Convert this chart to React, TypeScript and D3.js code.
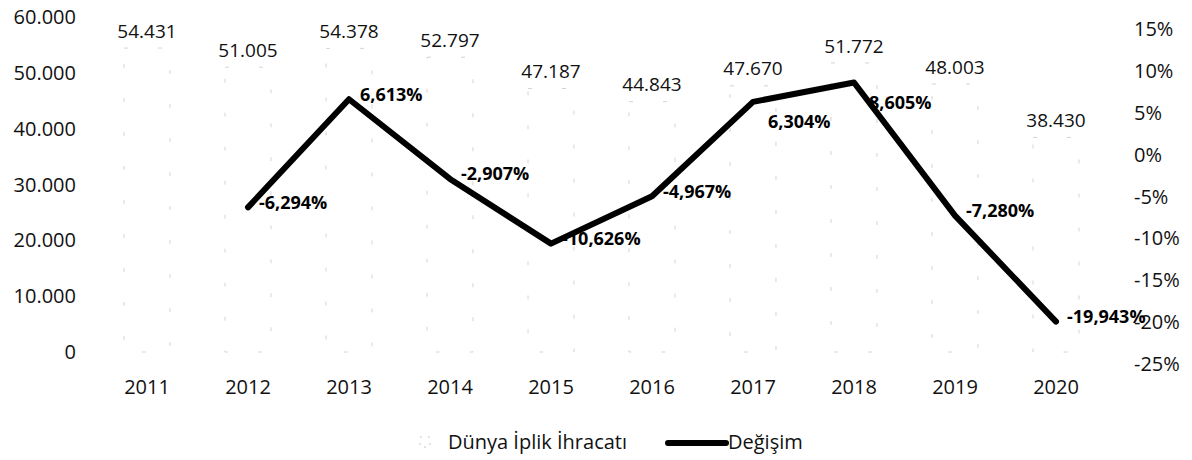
import React from "react";
import * as d3 from "d3";

const years = ["2011", "2012", "2013", "2014", "2015", "2016", "2017", "2018", "2019", "2020"];
const exportsValues = [54431, 51005, 54378, 52797, 47187, 44843, 47670, 51772, 48003, 38430];
const changeValues: (number | null)[] = [null, -6.294, 6.613, -2.907, -10.626, -4.967, 6.304, 8.605, -7.28, -19.943];
const leftTicks = [0, 10000, 20000, 30000, 40000, 50000, 60000];
const rightTicks = [-25, -20, -15, -10, -5, 0, 5, 10, 15];
const changeLabelPlacement = ["right", "right", "right", "right", "right", "right", "below", "below", "right", "right"];
const seriesNames = ["Dünya İplik İhracatı", "Değişim"];

const W = 1192;
const H = 460;
const FONT = "'Open Sans', 'Noto Sans', sans-serif";

const locale = d3.formatLocale({ decimal: ",", thousands: ".", grouping: [3], currency: ["", ""], minus: "-" });
const fmtThousands = locale.format(",.0f");
const fmtPct = locale.format(".3f");

export default function App() {
  const x = d3.scaleBand<string>().domain(years).range([96.5, 1106.5]).paddingInner(0.545).paddingOuter(0.2725);
  const yL = d3.scaleLinear().domain([0, 60000]).range([352, 17]);
  const yR = d3.scaleLinear().domain([-25, 15]).range([364, 29]);

  const linePts = years
    .map((yr, i) => ({ yr, v: changeValues[i], i }))
    .filter((d) => d.v !== null) as { yr: string; v: number; i: number }[];

  const lineGen = d3
    .line<{ yr: string; v: number }>()
    .x((d) => (x(d.yr) as number) + x.bandwidth() / 2)
    .y((d) => yR(d.v));

  return (
    <svg width={W} height={H} style={{ display: "block", position: "absolute", left: 0, top: 0, background: "#fff" }} fontFamily={FONT}>
      <rect x={0} y={0} width={W} height={H} fill="#fff" />
      {/* bars (white fill, faint dashed outline as in the scan) */}
      {years.map((yr, i) => (
        <rect
          key={"b" + yr}
          x={x(yr)}
          y={yL(exportsValues[i])}
          width={x.bandwidth()}
          height={yL(0) - yL(exportsValues[i])}
          fill="#fff"
          stroke="#d4d4d4"
          strokeWidth={1}
          strokeDasharray="4 30"
        />
      ))}
      {/* bar labels */}
      {years.map((yr, i) => (
        <text
          key={"bl" + yr}
          x={(x(yr) as number) + x.bandwidth() / 2}
          y={yL(exportsValues[i]) - 17}
          dy="0.35em"
          textAnchor="middle"
          fontSize={19}
          fill="#111"
        >
          {fmtThousands(exportsValues[i])}
        </text>
      ))}
      {/* left axis */}
      {leftTicks.map((t) => (
        <text key={"lt" + t} x={76} y={yL(t)} dy="0.35em" textAnchor="end" fontSize={20} fill="#111">
          {fmtThousands(t)}
        </text>
      ))}
      {/* right axis */}
      {rightTicks.map((t) => (
        <text key={"rt" + t} x={1134} y={yR(t)} dy="0.35em" textAnchor="start" fontSize={20} fill="#111">
          {`${t}%`}
        </text>
      ))}
      {/* x axis labels */}
      {years.map((yr) => (
        <text
          key={"x" + yr}
          x={(x(yr) as number) + x.bandwidth() / 2}
          y={387}
          dy="0.35em"
          textAnchor="middle"
          fontSize={20}
          fill="#111"
        >
          {yr}
        </text>
      ))}
      {/* line */}
      <path d={lineGen(linePts) || ""} fill="none" stroke="#000" strokeWidth={6} strokeLinejoin="round" strokeLinecap="round" />
      {/* line labels */}
      {linePts.map((d) => {
        const px = (x(d.yr) as number) + x.bandwidth() / 2;
        const py = yR(d.v);
        const below = changeLabelPlacement[d.i] === "below";
        return (
          <text
            key={"ll" + d.yr}
            x={px + (below ? 15 : 11)}
            y={py + (below ? 20 : -5)}
            dy="0.35em"
            textAnchor="start"
            fontSize={18}
            fontWeight="bold"
            fill="#000"
          >
            {fmtPct(d.v) + "%"}
          </text>
        );
      })}
      {/* legend */}
      <rect x={420} y={437} width={10} height={10} fill="#fff" stroke="#c8c8c8" strokeWidth={1} strokeDasharray="2 6" />
      <text x={448} y={442} dy="0.35em" fontSize={20} fill="#111">
        {seriesNames[0]}
      </text>
      <line x1={668} x2={726} y1={443} y2={443} stroke="#000" strokeWidth={6} strokeLinecap="round" />
      <text x={728} y={442} dy="0.35em" fontSize={20} fill="#111">
        {seriesNames[1]}
      </text>
    </svg>
  );
}
